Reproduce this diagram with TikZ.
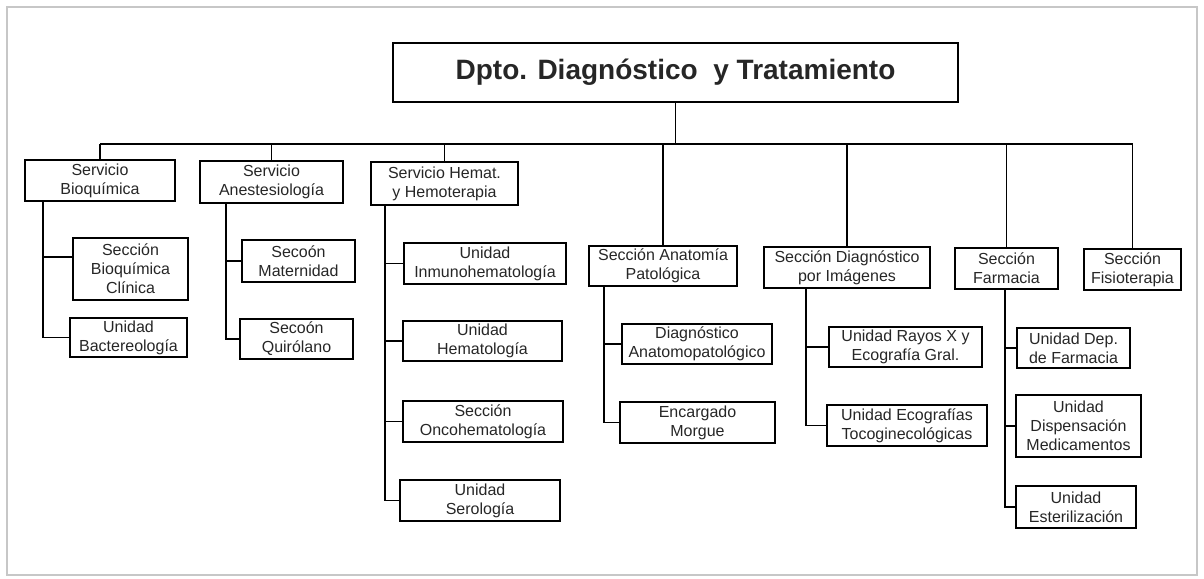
\documentclass[tikz,border=0pt]{standalone}
\usepackage{fontspec}
\setmainfont{Liberation Sans}
\begin{document}
\begin{tikzpicture}[x=1pt, y=-1pt,
  box/.style={draw, line width=1.6pt, align=center, inner sep=0pt, text=black!85, font=\fontsize{16}{19}\selectfont},
  link/.style={line width=1.6pt}]
\useasboundingbox (0,0) rectangle (1204,578);
\draw[black!22, line width=1.5pt] (7,7) rectangle (1197,575);
\node[box, minimum width=565pt, minimum height=59pt, font=\fontsize{28}{32}\selectfont\bfseries] (dpto) at (675.5,72.5) {Dpto. Diagnóstico\ \ y Tratamiento};
\coordinate (bus) at (0,144);
\node[box, minimum width=150pt, minimum height=41pt] (bioq) at (100,180.5) {Servicio\\Bioquímica};
\node[box, minimum width=143pt, minimum height=42pt] (anest) at (271.5,182) {Servicio\\Anestesiología};
\node[box, minimum width=147pt, minimum height=43pt] (hemat) at (444.5,183.5) {Servicio Hemat.\\y Hemoterapia};
\node[box, minimum width=148pt, minimum height=40pt] (anat) at (663,266) {Sección Anatomía\\Patológica};
\node[box, minimum width=166pt, minimum height=41pt] (imag) at (847,267.5) {Sección Diagnóstico\\por Imágenes};
\node[box, minimum width=103pt, minimum height=41pt] (farm) at (1006.5,268.5) {Sección\\Farmacia};
\node[box, minimum width=97pt, minimum height=41pt] (fisio) at (1132.5,269.5) {Sección\\Fisioterapia};
\node[box, minimum width=115pt, minimum height=62pt] (bqclin) at (130.5,269) {Sección\\Bioquímica\\Clínica};
\node[box, minimum width=117pt, minimum height=39pt] (bact) at (128.5,337.5) {Unidad\\Bactereología};
\node[box, minimum width=113pt, minimum height=42pt] (mater) at (298.5,261) {Secoón\\Maternidad};
\node[box, minimum width=113pt, minimum height=40pt] (quir) at (296.5,339) {Secoón\\Quirólano};
\node[box, minimum width=162pt, minimum height=41pt] (inmuno) at (485,263.5) {Unidad\\Inmunohematología};
\node[box, minimum width=159pt, minimum height=40pt] (hemato) at (482.5,341) {Unidad\\Hematología};
\node[box, minimum width=160pt, minimum height=41pt] (onco) at (483,421.5) {Sección\\Oncohematología};
\node[box, minimum width=160pt, minimum height=41pt] (sero) at (480,500.5) {Unidad\\Serología};
\node[box, minimum width=150pt, minimum height=40pt] (diagap) at (697,344) {Diagnóstico\\Anatomopatológico};
\node[box, minimum width=155pt, minimum height=41pt] (morgue) at (697.5,422.5) {Encargado\\Morgue};
\node[box, minimum width=153pt, minimum height=40pt] (rayos) at (905.5,347) {Unidad Rayos X y\\Ecografía Gral.};
\node[box, minimum width=160pt, minimum height=41pt] (ecog) at (907,425.5) {Unidad Ecografías\\Tocoginecológicas};
\node[box, minimum width=113pt, minimum height=40pt] (depf) at (1073.5,348) {Unidad Dep.\\de Farmacia};
\node[box, minimum width=125pt, minimum height=62pt] (disp) at (1078.5,426) {Unidad\\Dispensación\\Medicamentos};
\node[box, minimum width=120pt, minimum height=42pt] (ester) at (1076,507) {Unidad\\Esterilización};
\draw[link] (dpto.south) -- (dpto.south |- bus);
\draw[link] (bioq.north |- bus) -- (fisio.north |- bus);
\foreach \n in {bioq,anest,hemat,anat,imag,farm,fisio}
  \draw[link] (\n.north) -- (\n.north |- bus);
\draw[link] ([xshift=-57pt]bioq.south) |- ([yshift=12pt]bqclin.west);
\draw[link] ([xshift=-57pt]bioq.south) |- (bact.west);
\foreach \c in {mater,quir}
  \draw[link] ([xshift=-45.5pt]anest.south) |- (\c.west);
\foreach \c in {inmuno,hemato,onco,sero}
  \draw[link] ([xshift=-59.5pt]hemat.south) |- (\c.west);
\foreach \c in {diagap,morgue}
  \draw[link] ([xshift=-59pt]anat.south) |- (\c.west);
\foreach \c in {rayos,ecog}
  \draw[link] ([xshift=-41pt]imag.south) |- (\c.west);
\foreach \c in {depf,disp,ester}
  \draw[link] ([xshift=-1.5pt]farm.south) |- (\c.west);
\end{tikzpicture}
\end{document}
